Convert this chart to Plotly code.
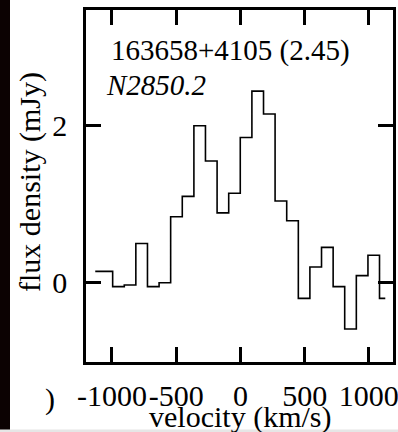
import plotly.graph_objects as go

# Data
velocity = [-1130, -1040, -949, -859, -769, -678, -588, -498, -407, -317, -227, -136, -46,
            44, 135, 225, 315, 406, 496, 586, 677, 767, 857, 948, 1038, 1128]
flux = [0.145, 0.145, -0.05, -0.03, 0.50, -0.05, 0.0, 0.84, 1.10, 2.0, 1.55, 0.89, 1.14,
        1.85, 2.44, 2.15, 1.04, 0.79, -0.20, 0.20, 0.45, -0.05, -0.59, 0.09, 0.35, -0.20]
x_ticks = [-1000, -500, 0, 500, 1000]
x_ticklabels = ["-1000", "-500", "0", "500", "1000"]
y_ticks = [0, 2]
y_ticklabels = ["0", "2"]
source_name = "163658+4105 (2.45)"
source_id = "N2850.2"

W, H = 398, 432
L, R, T, B = 86, 5, 10, 70
pw, ph = W - L - R, H - T - B

def px_x(p):
    return (p - L) / pw

def px_y(p):
    return (H - B - p) / ph

FONT = "Liberation Serif, Times New Roman, Times, serif"

fig = go.Figure()
fig.add_trace(go.Scatter(x=velocity, y=flux, mode="lines", line_shape="hvh",
                         line=dict(color="black", width=1.6), showlegend=False,
                         hoverinfo="skip"))

axis_common = dict(showline=True, linecolor="black", linewidth=2.5, mirror="ticks",
                   ticks="inside", ticklen=15, tickwidth=3, tickcolor="black",
                   showgrid=False, zeroline=False, automargin=False, tickangle=0,
                   ticklabeloverflow="allow",
                   tickfont=dict(family=FONT, size=30, color="black"))

fig.update_xaxes(range=[-1202, 1188], tickvals=x_ticks, ticktext=x_ticklabels,
                 ticklabelstandoff=5, **axis_common)
fig.update_yaxes(range=[-1.01, 3.474], tickvals=y_ticks, ticktext=y_ticklabels,
                 ticklabelstandoff=10, **axis_common)

annotations = [
    dict(text=source_name, x=px_x(109), y=px_y(50), xanchor="left", yanchor="middle",
         font=dict(family=FONT, size=29, color="black")),
    dict(text="<i>" + source_id + "</i>", x=px_x(104), y=px_y(85), xanchor="left",
         yanchor="middle", font=dict(family=FONT, size=29, color="black")),
    dict(text="flux density (mJy)", x=px_x(30), y=px_y(182), textangle=-90,
         xanchor="center", yanchor="middle", font=dict(family=FONT, size=30, color="black")),
    dict(text="velocity (km/s)", x=px_x(240), y=px_y(417), xanchor="center",
         yanchor="middle", font=dict(family=FONT, size=30, color="black")),
    dict(text=")", x=px_x(50), y=px_y(399), xanchor="center", yanchor="middle",
         font=dict(family=FONT, size=30, color="black")),
]
for a in annotations:
    a.update(xref="paper", yref="paper", showarrow=False)

shapes = [
    dict(type="rect", xref="paper", yref="paper", x0=px_x(0), x1=px_x(10),
         y0=px_y(432), y1=px_y(0), fillcolor="#0c0202", line=dict(width=0), layer="above"),
    dict(type="rect", xref="paper", yref="paper", x0=px_x(0), x1=px_x(398),
         y0=px_y(432), y1=px_y(429.5), fillcolor="#e6e6e6", line=dict(width=0), layer="above"),
]

fig.update_layout(width=W, height=H, margin=dict(l=L, r=R, t=T, b=B, pad=0),
                  paper_bgcolor="white", plot_bgcolor="white",
                  annotations=annotations, shapes=shapes)

fig.write_html("out.html")
